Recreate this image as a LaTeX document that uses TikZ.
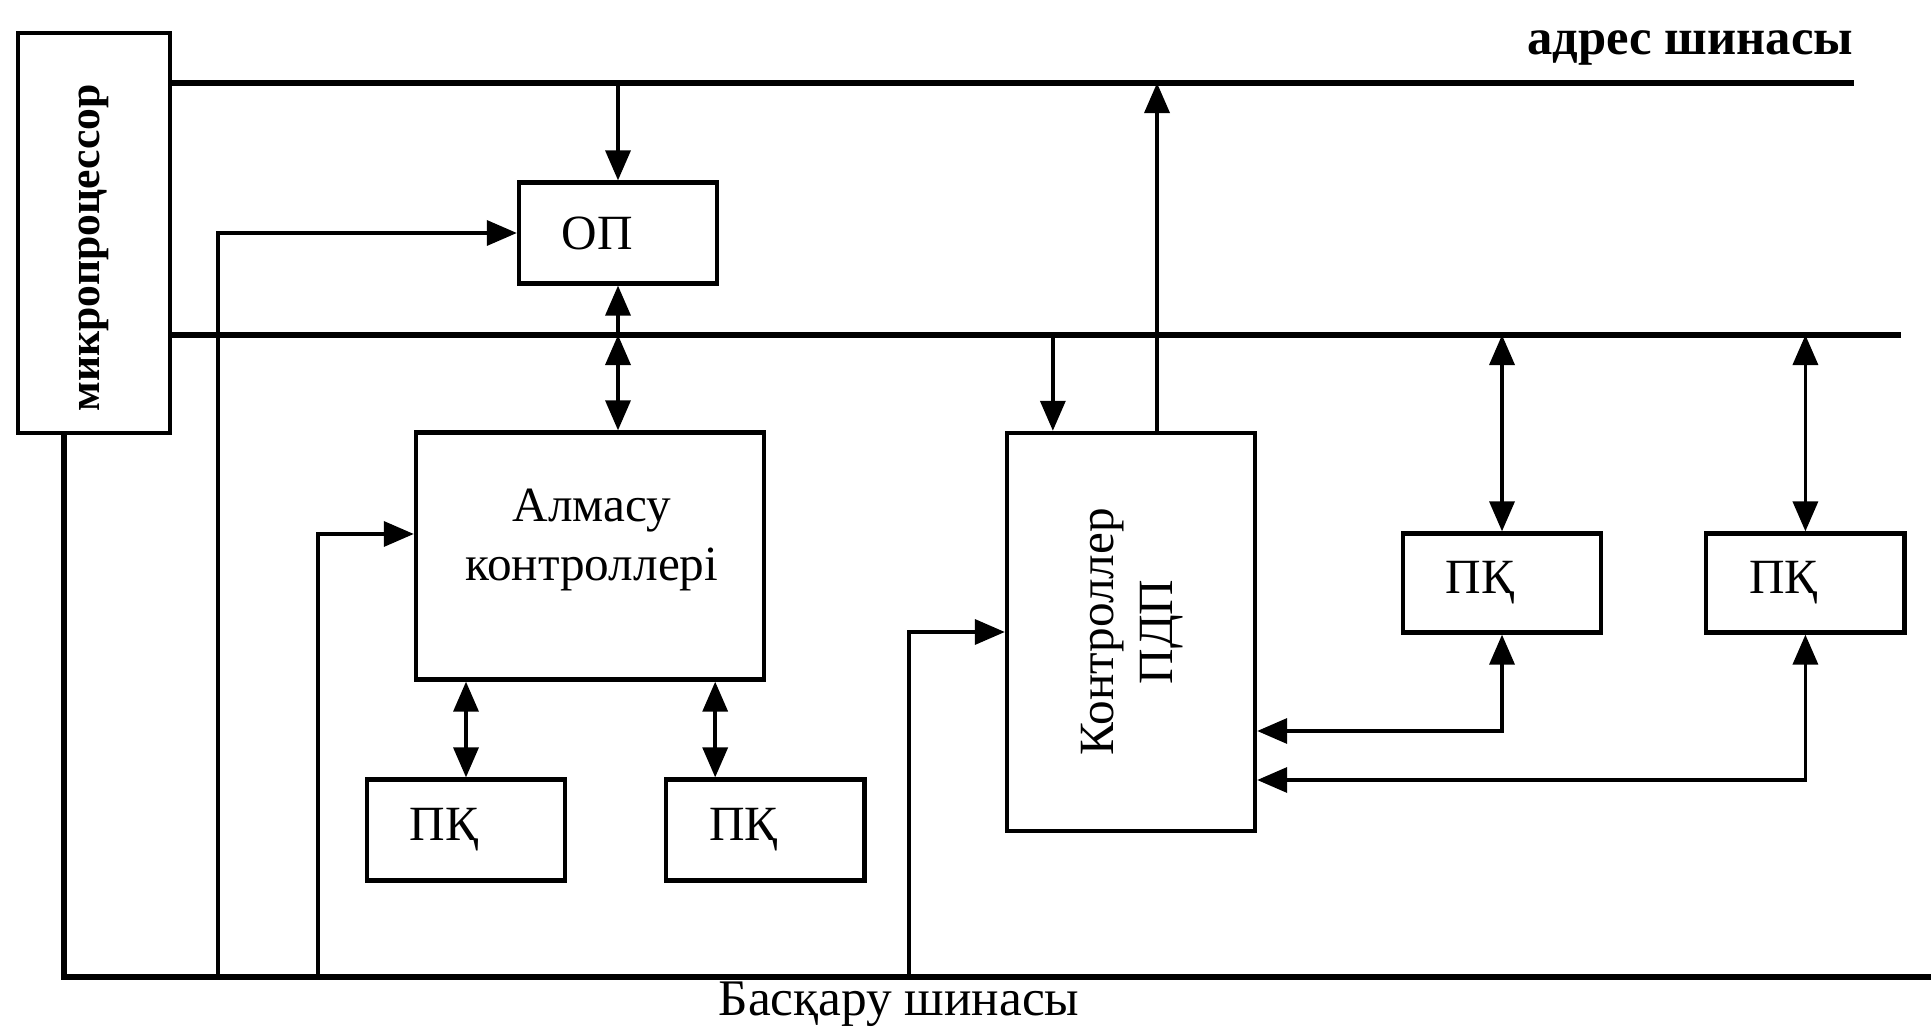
\documentclass[tikz,border=0pt]{standalone}
\usepackage{fontspec}
\setmainfont{Liberation Serif}
\usepackage{graphicx}
\usetikzlibrary{positioning, arrows.meta}

\begin{document}
\begin{tikzpicture}[
    x=0.01cm, y=-0.01cm,
    font=\fontsize{14}{17}\selectfont,
    box/.style={
        draw=black, line width=1.2pt,
        inner sep=0pt, align=center
    },
    smallbox/.style={
        box, align=left,
        inner xsep=0.43cm, text width=1.12cm,
        minimum height=1.01cm
    },
    bus/.style={line width=1.6pt},
    link/.style={line width=1pt},
    arr/.style={link, -{Triangle[length=0.3cm, width=0.25cm]}},
    dblarr/.style={link, {Triangle[length=0.3cm, width=0.25cm]}-{Triangle[length=0.3cm, width=0.25cm]}},
    buslabel/.style={inner sep=0pt, font=\fontsize{14.6}{17}\selectfont}
]
\useasboundingbox (0,0) rectangle (1931,1028);

% Microprocessor and memory
\node[box, minimum width=1.52cm, minimum height=4.0cm] (mp) at (94,233)
    {\rotatebox{90}{\fontsize{12.4}{15}\selectfont\bfseries микропроцессор\hspace{0.3cm}}};
\node[smallbox] (op) at (618,233) {ОП};

% Exchange controller
\node[box, minimum width=3.48cm, minimum height=2.47cm] (almasu) at (590,556) {};
\node[align=center] (almasutext) at (592,540) {Алмасу\\контроллері};
\node[smallbox] (pk1) at (466,830) {ПҚ};
\node[smallbox, right=0.97cm of pk1] (pk2) {ПҚ};

% DMA controller
\node[box, minimum width=2.48cm, minimum height=3.98cm] (pdp) at (1131,632)
    {\rotatebox{90}{\begin{tabular}{@{}c@{}}Контроллер\\ПДП\end{tabular}}};
\node[smallbox, minimum height=0.99cm] (pk3) at (1502,583) {ПҚ};
\node[smallbox, minimum height=0.99cm, right=1.01cm of pk3] (pk4) {ПҚ};

% Buses
\coordinate (ab-e) at (1854,83);
\coordinate (db-e) at (1901,335);
\coordinate (cb-e) at (1931,977);
\draw[bus] (mp.east |- ab-e) -- (ab-e);
\draw[bus] (mp.east |- db-e) -- (db-e);
\draw[bus] ([xshift=-0.3cm]mp.south) |- (cb-e);
\node[buslabel, anchor=south east, font=\fontsize{14.4}{17}\selectfont\bfseries] (ablabel) at ([yshift=0.17cm]ab-e) {адрес шинасы};
\node[buslabel, anchor=north] (cblabel) at (899,981) {Басқару шинасы};

% Helper points
\coordinate (alm-l) at ([yshift=0.22cm]almasu.west);
\coordinate (alm-r) at ([xshift=-0.51cm]almasu.south east);
\coordinate (pdp-in) at ([xshift=0.48cm]pdp.north west);
\coordinate (pdp-out) at ([xshift=0.26cm]pdp.north);

% Arrows
\draw[arr] (op.north |- ab-e) -- (op.north);
\draw[arr] (cb-e -| 218,0) |- (op.west);
\draw[arr] (op.south |- db-e) -- (op.south);
\draw[dblarr] (op.south |- db-e) -- (op.south |- almasu.north);
\draw[arr] (cb-e -| 318,0) |- (alm-l);
\draw[dblarr] (almasu.south -| pk1.north) -- (pk1.north);
\draw[dblarr] (alm-r) -- (alm-r |- pk2.north);
\draw[arr] (pdp-in |- db-e) -- (pdp-in);
\draw[arr] (pdp-out) -- (pdp-out |- ab-e);
\draw[arr] (cb-e -| 909,0) |- (pdp.west);
\draw[dblarr] (pk3.north |- db-e) -- (pk3.north);
\draw[dblarr] (pk4.north |- db-e) -- (pk4.north);
\draw[dblarr] (pk3.south) |- (pdp.east |- 0,731);
\draw[dblarr] (pk4.south) |- (pdp.east |- 0,780);

\end{tikzpicture}
\end{document}
